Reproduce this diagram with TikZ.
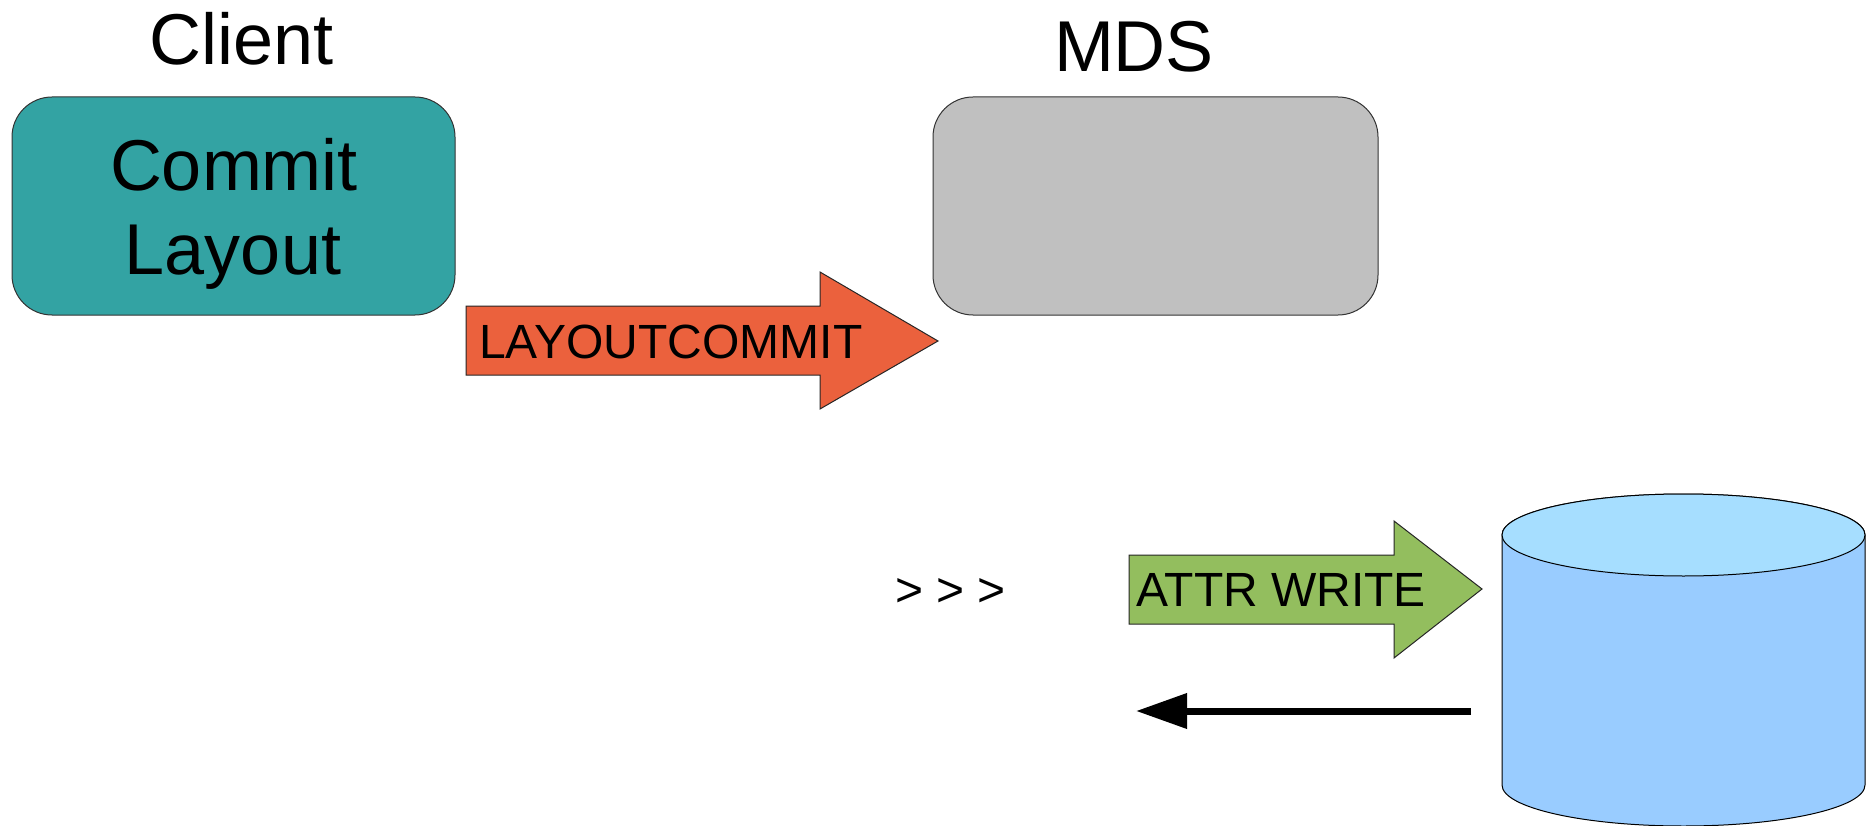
\documentclass[tikz,border=0pt]{standalone}
\usepackage{fontspec}
\setmainfont{Liberation Sans}
\usetikzlibrary{arrows.meta}
\definecolor{tealc}{RGB}{51,163,163}
\definecolor{grayc}{RGB}{192,192,192}
\definecolor{orangec}{RGB}{235,97,61}
\definecolor{greenc}{RGB}{147,190,94}
\definecolor{cyltop}{RGB}{166,222,255}
\definecolor{cylbody}{RGB}{153,204,255}
\begin{document}
\begin{tikzpicture}[x=1pt,y=-1pt,
  box/.style={draw=black!80, line width=1pt, rounded corners=40pt, inner sep=0pt},
  title/.style={anchor=base, inner sep=0pt, font=\fontsize{72}{84}\selectfont},
  blocklbl/.style={anchor=base west, inner sep=0pt, font=\fontsize{48}{56}\selectfont},
  blockarrow/.style={draw=black!85, line width=1pt, line join=miter}
]
\useasboundingbox (0,0) rectangle (1876,826);

% boxes
\node[box, fill=tealc, minimum width=443pt, minimum height=218pt] (client) at (233.5,206) {};
\node[box, fill=grayc, minimum width=445pt, minimum height=218pt] (mds) at (1155.5,206) {};

% titles
\node[title] (clientlbl) at (242,65) {Client};
\node[title] (mdslbl) at (1134,72) {MDS};
\node[title] (commitlbl) at (234,191) {Commit};
\node[title] (layoutlbl) at (233,275) {Layout};

% LAYOUTCOMMIT block arrow
\draw[blockarrow, fill=orangec] (466,306) -- (820,306) -- (820,272) -- (938,341)
  -- (820,409) -- (820,375) -- (466,375) -- cycle;
\node[blocklbl] (lclbl) at (479,358) {LAYOUTCOMMIT};

% ATTR WRITE block arrow
\draw[blockarrow, fill=greenc] (1129,555) -- (1394,555) -- (1394,521) -- (1482,589)
  -- (1394,658) -- (1394,624) -- (1129,624) -- cycle;
\node[blocklbl] (attrlbl) at (1136,606) {ATTR WRITE};

% > > >
\node[blocklbl] (dots) at (895,606) {> > >};

% cylinder
\draw[draw=black, line width=1pt, fill=cylbody] (1502,535) -- (1502,785)
  arc[start angle=180, end angle=360, x radius=181.5pt, y radius=41pt]
  -- (1865,535) arc[start angle=0, end angle=180, x radius=181.5pt, y radius=41pt] -- cycle;
\draw[draw=black, line width=1pt, fill=cyltop] (1683.5,535) ellipse[x radius=181.5pt, y radius=41pt];

% return arrow
\coordinate (retS) at (1471,711);
\coordinate (retE) at (1136,711);
\draw[line width=7pt, -{Triangle[length=51pt,width=34pt]}] (retS) -- (retE);
\end{tikzpicture}
\end{document}
